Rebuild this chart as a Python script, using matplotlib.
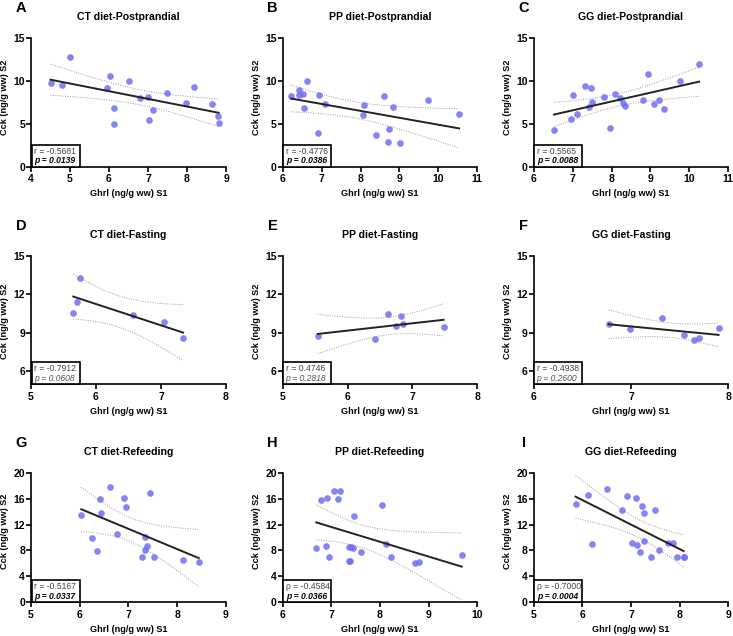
import numpy as np
import matplotlib
matplotlib.use("Agg")
import matplotlib.pyplot as plt
from matplotlib.patches import Rectangle

plt.rcParams['font.family'] = ['Liberation Sans', 'DejaVu Sans']

# ---------------- data ----------------
letters = ["A", "B", "C", "D", "E", "F", "G", "H", "I"]
titles = ["CT diet-Postprandial", "PP diet-Postprandial", "GG diet-Postprandial",
          "CT diet-Fasting", "PP diet-Fasting", "GG diet-Fasting",
          "CT diet-Refeeding", "PP diet-Refeeding", "GG diet-Refeeding"]
stat_labels = ["r = -0.5681", "r = -0.4776", "r = 0.5565",
               "r = -0.7912", "r = 0.4746", "r = -0.4938",
               "r = -0.5167", "\u03c1 = -0.4584", "\u03c1 = -0.7000"]
p_labels = ["p = 0.0139", "p = 0.0386", "p = 0.0088",
            "p = 0.0608", "p = 0.2818", "p = 0.2600",
            "p = 0.0337", "p = 0.0366", "p = 0.0004"]
p_signif = [True, True, True, False, False, False, True, True, True]

xA = [4.50, 4.79, 4.99, 5.95, 6.03, 6.13, 6.12, 6.50, 6.79, 7.00, 7.03, 7.13, 7.49, 7.97, 8.17, 8.63, 8.79, 8.81]
yA = [9.69, 9.46, 12.70, 9.10, 10.50, 6.78, 4.92, 10.00, 8.02, 8.10, 5.47, 6.63, 8.60, 7.36, 9.22, 7.33, 5.89, 5.04]

xB = [6.22, 6.43, 6.43, 6.53, 6.56, 6.63, 6.91, 6.94, 7.09, 8.06, 8.10, 8.39, 8.59, 8.72, 8.70, 8.83, 9.01, 9.73, 10.53]
yB = [8.22, 8.91, 8.29, 8.41, 6.86, 10.00, 3.95, 8.37, 7.29, 6.01, 7.21, 3.68, 8.18, 4.42, 2.83, 6.98, 2.71, 7.79, 6.09]

xC = [6.52, 6.95, 7.02, 7.11, 7.32, 7.46, 7.42, 7.49, 7.81, 7.96, 8.08, 8.22, 8.30, 8.35, 8.80, 8.93, 9.10, 9.23, 9.36, 9.76, 10.25]
yC = [4.30, 5.58, 8.29, 6.16, 9.34, 9.19, 6.90, 7.48, 8.10, 4.50, 8.41, 8.02, 7.36, 7.05, 7.71, 10.78, 7.25, 7.79, 6.67, 9.92, 11.94]

xD = [5.65, 5.70, 5.76, 6.57, 7.04, 7.34]
yD = [10.53, 11.43, 13.24, 10.37, 9.88, 8.59]

xE = [5.54, 6.43, 6.63, 6.74, 6.82, 6.85, 7.48]
yE = [8.77, 8.53, 10.45, 9.57, 10.32, 9.67, 9.47]

xF = [6.77, 6.99, 7.32, 7.54, 7.65, 7.70, 7.90]
yF = [9.67, 9.28, 10.16, 8.87, 8.43, 8.61, 9.39]

xG = [6.03, 6.26, 6.35, 6.42, 6.43, 6.62, 6.77, 6.90, 6.95, 7.28, 7.34, 7.34, 7.37, 7.45, 7.52, 8.11, 8.44]
yG = [13.42, 9.97, 7.87, 15.94, 13.83, 17.74, 10.59, 16.04, 14.76, 7.04, 8.07, 10.13, 8.74, 16.92, 7.04, 6.53, 6.17]

xH = [6.69, 6.79, 6.91, 6.90, 6.95, 7.05, 7.18, 7.14, 7.36, 7.37, 7.38, 7.41, 7.45, 7.46, 7.61, 8.05, 8.12, 8.23, 8.71, 8.80, 9.68]
yH = [8.38, 15.73, 16.04, 8.69, 7.04, 17.12, 17.12, 15.94, 8.59, 6.43, 6.38, 8.53, 8.38, 13.37, 7.76, 14.96, 8.95, 7.04, 6.02, 6.27, 7.35]

xI = [5.86, 6.12, 6.19, 6.50, 6.82, 6.92, 7.02, 7.10, 7.12, 7.18, 7.23, 7.26, 7.26, 7.42, 7.49, 7.58, 7.77, 7.86, 7.95, 8.08, 8.08]
yI = [15.22, 16.56, 9.00, 17.53, 14.24, 16.35, 9.20, 16.09, 8.79, 7.81, 14.81, 13.73, 9.46, 7.04, 14.19, 8.02, 9.20, 9.20, 7.04, 7.04, 7.00]

xs = [xA, xB, xC, xD, xE, xF, xG, xH, xI]
ys = [yA, yB, yC, yD, yE, yF, yG, yH, yI]

xlims = [(4, 9), (6, 11), (6, 11), (5, 8), (5, 8), (6, 8), (5, 9), (6, 10), (5, 9)]
row_ylims = [(0, 15), (5, 15), (0, 20)]
row_yticks = [[0, 5, 10, 15], [6, 9, 12, 15], [0, 4, 8, 12, 16, 20]]

# t critical values (two-sided 95%) by degrees of freedom
T975 = {1: 12.706, 2: 4.303, 3: 3.182, 4: 2.776, 5: 2.571, 6: 2.447, 7: 2.365, 8: 2.306,
        9: 2.262, 10: 2.228, 11: 2.201, 12: 2.179, 13: 2.160, 14: 2.145, 15: 2.131,
        16: 2.120, 17: 2.110, 18: 2.101, 19: 2.093, 20: 2.086, 21: 2.080, 22: 2.074}

# ---------------- layout (pixels) ----------------
W, H = 733, 636
fig = plt.figure(figsize=(W / 100, H / 100), dpi=100)

col_lr = [(31, 226), (282.7, 477.3), (533.7, 728.3)]
row_tb = [(37.7, 166.7), (255.7, 384.3), (472.7, 602.3)]
ylabel_cy = [97, 321, 531]

point_color = '#6f6ff2'
fs_tick = 7.5
fs_lab = 6.6
fs_title = 7.6
fs_letter = 10.5

for i in range(9):
    r, c = divmod(i, 3)
    L, R = col_lr[c]
    T, B = row_tb[r]
    ax = fig.add_axes([L / W, 1 - B / H, (R - L) / W, (B - T) / H])
    x = np.array(xs[i]); y = np.array(ys[i])

    ax.scatter(x, y, s=23, color=point_color, alpha=0.85, linewidths=0, zorder=3)

    # linear regression with 95% confidence band
    n = len(x)
    b1, b0 = np.polyfit(x, y, 1)
    xx = np.linspace(x.min(), x.max(), 100)
    yy = b0 + b1 * xx
    resid = y - (b0 + b1 * x)
    s = np.sqrt(np.sum(resid ** 2) / (n - 2))
    sxx = np.sum((x - x.mean()) ** 2)
    se = s * np.sqrt(1 / n + (xx - x.mean()) ** 2 / sxx)
    t = T975[n - 2]
    ax.plot(xx, yy + t * se, ls=(0, (1, 1.5)), color='#9a9a9a', lw=0.7, zorder=2)
    ax.plot(xx, yy - t * se, ls=(0, (1, 1.5)), color='#9a9a9a', lw=0.7, zorder=2)
    ax.plot(xx, yy, color='#222222', lw=1.4, zorder=4)

    ax.set_xlim(*xlims[i])
    ax.set_ylim(*row_ylims[r])
    ax.set_xticks(range(xlims[i][0], xlims[i][1] + 1))
    ax.set_yticks(row_yticks[r])
    for sp in ['top', 'right']:
        ax.spines[sp].set_visible(False)
    for sp in ['left', 'bottom']:
        ax.spines[sp].set_linewidth(1.2)
    ax.tick_params(direction='out', length=3.5, width=1.2, labelsize=fs_tick)
    ax.tick_params(axis='x', pad=2.0)
    ax.tick_params(axis='y', pad=0.8)
    for lab in ax.get_xticklabels() + ax.get_yticklabels():
        lab.set_fontweight('bold')

    # annotations in pixel offsets
    ax.annotate(titles[i], xy=(0.5, 1), xycoords='axes fraction', xytext=(0, 21),
                textcoords='offset pixels', ha='center', va='center',
                fontsize=fs_title, fontweight='bold')
    ax.annotate(letters[i], xy=(0, 1), xycoords='axes fraction', xytext=(-10, 30),
                textcoords='offset pixels', ha='center', va='center',
                fontsize=fs_letter, fontweight='bold')
    ax.annotate("Ghrl (ng/g ww) S1", xy=(0.5, 0), xycoords='axes fraction', xytext=(0, -27),
                textcoords='offset pixels', ha='center', va='center',
                fontsize=fs_lab, fontweight='bold')
    cy_frac = (B - ylabel_cy[r]) / (B - T)
    ax.annotate("Cck (ng/g ww) S2", xy=(0, cy_frac), xycoords='axes fraction', xytext=(-26, 0),
                textcoords='offset pixels', ha='center', va='center', rotation=90,
                fontsize=fs_lab, fontweight='bold')

    # stats box
    bw = 48 / (R - L)
    bh = 22 / (B - T)
    ax.add_patch(Rectangle((0.004, 0), bw, bh, transform=ax.transAxes, fill=True,
                           facecolor='white', edgecolor='black', lw=1.2, clip_on=False, zorder=5))
    ax.annotate(stat_labels[i], xy=(0, 0), xycoords='axes fraction', xytext=(3, 15.5),
                textcoords='offset pixels', ha='left', va='center',
                fontsize=6.2, color='#444444', zorder=6)
    if p_signif[i]:
        ax.annotate(p_labels[i], xy=(0, 0), xycoords='axes fraction', xytext=(3, 6),
                    textcoords='offset pixels', ha='left', va='center',
                    fontsize=6.2, color='black', fontweight='bold', fontstyle='italic', zorder=6)
    else:
        ax.annotate(p_labels[i], xy=(0, 0), xycoords='axes fraction', xytext=(3, 6),
                    textcoords='offset pixels', ha='left', va='center',
                    fontsize=6.2, color='#555555', fontstyle='italic', zorder=6)

fig.savefig("out.png", dpi=100)
